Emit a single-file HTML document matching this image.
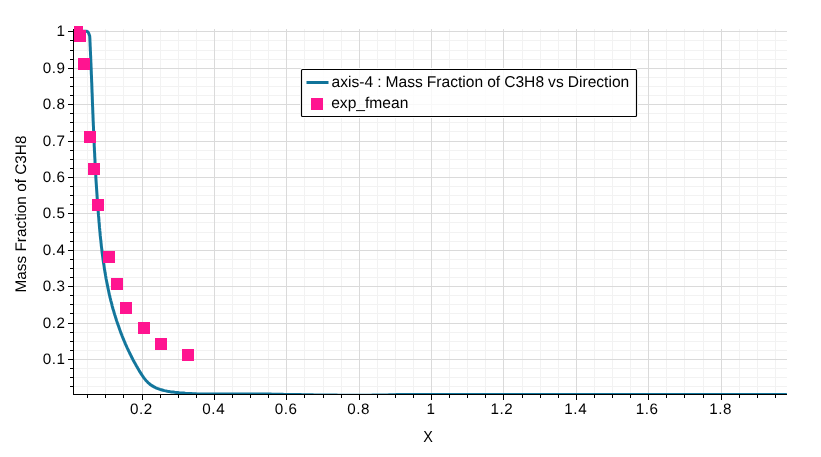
<!DOCTYPE html>
<html><head><meta charset="utf-8"><style>
html,body{margin:0;padding:0;background:#fff;overflow:hidden;}
svg{display:block;will-change:transform;}
text{font-family:"Liberation Sans",sans-serif;fill:#000;text-rendering:geometricPrecision;}
</style></head><body>
<svg width="821" height="457" viewBox="0 0 821 457">
<defs><clipPath id="pc"><rect x="74" y="29" width="713" height="366"/></clipPath><clipPath id="mc"><rect x="74" y="0" width="713" height="394"/></clipPath></defs>
<rect width="821" height="457" fill="#fff"/>
<path d="M87.5 29V394M105.5 29V394M123.5 29V394M160.5 29V394M178.5 29V394M196.5 29V394M232.5 29V394M250.5 29V394M268.5 29V394M304.5 29V394M323.5 29V394M341.5 29V394M377.5 29V394M395.5 29V394M413.5 29V394M449.5 29V394M467.5 29V394M485.5 29V394M522.5 29V394M540.5 29V394M558.5 29V394M594.5 29V394M612.5 29V394M630.5 29V394M666.5 29V394M684.5 29V394M703.5 29V394M739.5 29V394M757.5 29V394M775.5 29V394M74 386.5H787M74 377.5H787M74 368.5H787M74 350.5H787M74 341.5H787M74 332.5H787M74 313.5H787M74 304.5H787M74 295.5H787M74 277.5H787M74 268.5H787M74 259.5H787M74 241.5H787M74 232.5H787M74 222.5H787M74 204.5H787M74 195.5H787M74 186.5H787M74 168.5H787M74 159.5H787M74 150.5H787M74 131.5H787M74 122.5H787M74 113.5H787M74 95.5H787M74 86.5H787M74 77.5H787M74 59.5H787M74 50.5H787M74 40.5H787" stroke="#f2f2f2" stroke-width="1" fill="none" shape-rendering="crispEdges"/>
<path d="M142.5 29V394M214.5 29V394M286.5 29V394M359.5 29V394M431.5 29V394M503.5 29V394M576.5 29V394M648.5 29V394M721.5 29V394M74 359.5H787M74 323.5H787M74 286.5H787M74 250.5H787M74 213.5H787M74 177.5H787M74 141.5H787M74 104.5H787M74 68.5H787M74 31.5H787" stroke="#dadada" stroke-width="1" fill="none" shape-rendering="crispEdges"/>
<g clip-path="url(#pc)">
<path d="M60.0 31.2 L86.0 31.2 L87.6 31.6 L88.6 33.0 L89.7 36.0 L89.8 37.5 L89.9 39.0 L89.9 40.5 L90.0 42.0 L90.1 43.5 L90.1 45.0 L90.2 46.5 L90.3 48.0 L90.3 49.5 L90.4 51.0 L90.5 52.5 L90.5 54.0 L90.6 55.4 L90.7 56.9 L90.7 58.4 L90.8 59.9 L90.8 61.4 L90.9 62.9 L91.0 64.4 L91.0 65.9 L91.1 67.4 L91.2 68.9 L91.2 70.4 L91.3 71.9 L91.3 73.4 L91.4 74.9 L91.5 76.4 L91.5 77.9 L91.6 79.4 L91.6 80.9 L91.7 82.4 L91.8 83.9 L91.8 85.4 L91.9 86.9 L91.9 88.4 L92.0 89.9 L92.0 91.4 L92.1 92.9 L92.2 94.4 L92.2 95.9 L92.3 97.4 L92.3 98.9 L92.4 100.4 L92.4 101.9 L92.5 103.4 L92.5 104.9 L92.6 106.4 L92.7 107.9 L92.7 109.4 L92.8 110.9 L92.8 112.4 L92.9 113.9 L93.0 115.4 L93.0 116.9 L93.1 118.4 L93.1 119.9 L93.2 121.4 L93.3 122.9 L93.3 124.4 L93.4 125.9 L93.5 127.4 L93.5 128.9 L93.6 130.4 L93.6 131.9 L93.7 133.4 L93.8 134.9 L93.8 136.4 L93.9 137.9 L94.0 139.4 L94.0 140.9 L94.1 142.4 L94.2 143.9 L94.2 145.4 L94.3 146.9 L94.4 148.4 L94.4 149.9 L94.5 151.4 L94.6 152.9 L94.7 154.4 L94.7 155.9 L94.8 157.4 L94.9 158.8 L95.0 160.3 L95.0 161.8 L95.1 163.3 L95.2 164.8 L95.3 166.3 L95.3 167.8 L95.4 169.3 L95.5 170.8 L95.6 172.3 L95.7 173.8 L95.8 175.3 L95.8 176.8 L95.9 178.3 L96.0 179.8 L96.1 181.3 L96.2 182.8 L96.3 184.3 L96.4 185.8 L96.5 187.3 L96.6 188.8 L96.7 190.3 L96.8 191.8 L96.9 193.3 L97.0 194.8 L97.1 196.3 L97.2 197.8 L97.3 199.3 L97.4 200.8 L97.5 202.3 L97.6 203.8 L97.7 205.3 L97.8 206.8 L97.9 208.3 L98.0 209.8 L98.2 211.2 L98.3 212.8 L98.4 214.2 L98.5 215.7 L98.7 217.2 L98.8 218.7 L98.9 220.2 L99.0 221.7 L99.2 223.2 L99.3 224.7 L99.4 226.2 L99.5 227.7 L99.7 229.2 L99.8 230.7 L100.0 232.2 L100.1 233.7 L100.2 235.2 L100.4 236.7 L100.5 238.1 L100.7 239.6 L100.9 241.1 L101.0 242.6 L101.2 244.1 L101.3 245.6 L101.5 247.1 L101.7 248.6 L101.9 250.1 L102.0 251.6 L102.2 253.1 L102.4 254.5 L102.6 256.0 L102.8 257.5 L103.0 259.0 L103.2 260.5 L103.4 262.0 L103.6 263.4 L103.9 264.9 L104.1 266.4 L104.3 267.9 L104.5 269.4 L104.8 270.9 L105.0 272.4 L105.3 273.8 L105.5 275.3 L105.8 276.8 L106.0 278.3 L106.3 279.7 L106.6 281.2 L106.9 282.7 L107.2 284.1 L107.5 285.6 L107.8 287.1 L108.1 288.6 L108.4 290.0 L108.7 291.5 L109.0 293.0 L109.3 294.4 L109.7 295.9 L110.0 297.4 L110.4 298.8 L110.7 300.3 L111.1 301.7 L111.5 303.2 L111.9 304.6 L112.2 306.1 L112.6 307.5 L113.0 309.0 L113.5 310.4 L113.9 311.9 L114.3 313.3 L114.7 314.7 L115.2 316.1 L115.6 317.6 L116.1 319.0 L116.5 320.4 L117.0 321.9 L117.5 323.3 L118.0 324.7 L118.5 326.1 L119.0 327.5 L119.5 328.9 L120.0 330.4 L120.5 331.8 L121.0 333.2 L121.6 334.6 L122.1 336.0 L122.7 337.4 L123.2 338.7 L123.8 340.1 L124.4 341.5 L125.0 342.9 L125.6 344.3 L126.2 345.6 L126.8 347.0 L127.4 348.4 L128.1 349.7 L128.7 351.1 L129.4 352.4 L130.0 353.8 L130.7 355.1 L131.4 356.5 L132.0 357.8 L132.7 359.1 L133.4 360.5 L134.1 361.8 L134.9 363.1 L135.6 364.4 L136.3 365.7 L137.1 367.0 L137.8 368.3 L138.6 369.6 L139.3 370.9 L140.1 372.2 L140.9 373.4 L141.7 374.7 L142.6 376.0 L143.4 377.2 L144.3 378.4 L145.3 379.6 L146.2 380.7 L147.3 381.8 L148.3 382.9 L149.5 383.8 L150.6 384.8 L151.9 385.6 L153.2 386.4 L154.5 387.1 L155.8 387.8 L157.2 388.4 L158.6 388.9 L160.0 389.4 L161.4 389.8 L162.9 390.2 L164.4 390.6 L165.8 390.9 L167.3 391.2 L168.8 391.4 L170.3 391.7 L171.7 391.9 L173.2 392.1 L174.7 392.3 L176.2 392.4 L177.7 392.6 L179.2 392.8 L180.7 392.9 L182.2 393.0 L183.7 393.1 L185.2 393.3 L186.7 393.4 L188.2 393.5 L189.7 393.5 L191.2 393.6 L192.7 393.7 L194.2 393.8 L195.7 393.8 L197.2 393.9 L198.7 393.9 L200.2 393.9 L201.7 394.0 L203.2 394.0 L204.7 394.0 L206.2 394.0 L207.7 394.0 L209.2 394.0 L210.7 394.0 L212.2 394.0 L213.7 394.0 L215.2 394.0 L216.7 394.0 L218.2 394.0 L219.7 394.0 L221.2 394.0 L222.7 394.0 L224.2 394.0 L225.7 394.0 L227.2 393.9 L228.7 393.9 L230.2 393.9 L231.7 393.9 L233.2 393.9 L234.7 393.9 L236.2 393.9 L237.7 393.9 L239.2 393.9 L240.7 393.9 L242.2 393.9 L243.7 393.9 L245.2 393.9 L246.7 393.9 L248.2 393.9 L249.7 393.9 L251.2 393.9 L252.7 393.9 L254.2 394.0 L255.7 394.0 L257.1 394.0 L258.6 394.0 L260.1 394.0 L261.6 394.0 L263.1 394.1 L264.6 394.1 L266.1 394.1 L267.6 394.1 L269.1 394.1 L270.6 394.1 L272.1 394.2 L273.6 394.2 L275.1 394.2 L276.6 394.2 L278.1 394.3 L279.6 394.3 L281.1 394.3 L282.6 394.3 L284.1 394.4 L285.6 394.4 L287.1 394.4 L288.6 394.4 L290.1 394.4 L291.6 394.5 L293.1 394.5 L294.6 394.5 L296.1 394.6 L297.6 394.6 L299.1 394.6 L300.6 394.6 L302.1 394.7 L303.6 394.7 L305.1 394.7 L306.6 394.7 L308.1 394.8 L309.6 394.8 L311.1 394.8 L312.6 394.8 L314.1 394.9 L315.6 394.9 L317.1 394.9 L318.6 394.9 L320.1 394.9 L321.6 395.0 L323.1 395.0 L324.6 395.0 L326.1 395.0 L327.6 395.1 L329.1 395.1 L330.6 395.1 L332.1 395.1 L333.6 395.1 L335.1 395.1 L336.6 395.1 L338.1 395.2 L339.6 395.2 L341.1 395.2 L342.6 395.2 L344.1 395.2 L345.6 395.2 L347.1 395.2 L348.6 395.2 L350.1 395.2 L351.6 395.2 L353.1 395.2 L354.6 395.2 L356.1 395.2 L357.6 395.2 L359.1 395.2 L360.6 395.2 L362.1 395.2 L363.6 395.2 L365.1 395.2 L366.6 395.2 L368.1 395.2 L369.6 395.2 L371.1 395.2 L372.6 395.1 L374.1 395.1 L375.6 395.1 L377.1 395.1 L378.6 395.1 L380.1 395.0 L381.6 395.0 L383.1 395.0 L384.6 394.9 L386.1 394.9 L387.6 394.9 L389.1 394.8 L390.6 394.8 L392.1 394.8 L393.6 394.7 L395.1 394.7 L396.6 394.6 L398.1 394.6 L399.6 394.5 L786.0 394.5" stroke="#13769c" stroke-width="3" fill="none" stroke-linejoin="round" stroke-linecap="round"/>
</g>
<g fill="#ff1490" clip-path="url(#mc)"><rect x="71" y="26" width="12" height="12"/><rect x="74" y="30" width="12" height="12"/><rect x="78" y="58" width="12" height="12"/><rect x="84" y="131" width="12" height="12"/><rect x="88" y="163" width="12" height="12"/><rect x="92" y="199" width="12" height="12"/><rect x="103" y="251" width="12" height="12"/><rect x="111" y="278" width="12" height="12"/><rect x="120" y="302" width="12" height="12"/><rect x="138" y="322" width="12" height="12"/><rect x="155" y="338" width="12" height="12"/><rect x="182" y="349" width="12" height="12"/></g>
<path d="M73.5 29V395M73 394.5H787" stroke="#000" stroke-width="1" fill="none" shape-rendering="crispEdges"/>
<path d="M87.5 395V398M105.5 395V398M123.5 395V398M142.5 395V400M160.5 395V398M178.5 395V398M196.5 395V398M214.5 395V400M232.5 395V398M250.5 395V398M268.5 395V398M286.5 395V400M304.5 395V398M323.5 395V398M341.5 395V398M359.5 395V400M377.5 395V398M395.5 395V398M413.5 395V398M431.5 395V400M449.5 395V398M467.5 395V398M485.5 395V398M503.5 395V400M522.5 395V398M540.5 395V398M558.5 395V398M576.5 395V400M594.5 395V398M612.5 395V398M630.5 395V398M648.5 395V400M666.5 395V398M684.5 395V398M703.5 395V398M721.5 395V400M739.5 395V398M757.5 395V398M775.5 395V398M73 386.5H70M73 377.5H70M73 368.5H70M73 359.5H68M73 350.5H70M73 341.5H70M73 332.5H70M73 323.5H68M73 313.5H70M73 304.5H70M73 295.5H70M73 286.5H68M73 277.5H70M73 268.5H70M73 259.5H70M73 250.5H68M73 241.5H70M73 232.5H70M73 222.5H70M73 213.5H68M73 204.5H70M73 195.5H70M73 186.5H70M73 177.5H68M73 168.5H70M73 159.5H70M73 150.5H70M73 141.5H68M73 131.5H70M73 122.5H70M73 113.5H70M73 104.5H68M73 95.5H70M73 86.5H70M73 77.5H70M73 68.5H68M73 59.5H70M73 50.5H70M73 40.5H70M73 31.5H68" stroke="#000" stroke-width="1" fill="none" shape-rendering="crispEdges"/>
<g font-size="15.2" letter-spacing="0.6" text-anchor="middle"><text x="141.4" y="414">0.2</text><text x="213.8" y="414">0.4</text><text x="286.2" y="414">0.6</text><text x="358.6" y="414">0.8</text><text x="431.0" y="414">1</text><text x="501.9" y="414">1.2</text><text x="575.8" y="414">1.4</text><text x="647.2" y="414">1.6</text><text x="720.6" y="414">1.8</text></g>
<g font-size="15.2" letter-spacing="0.6" text-anchor="end"><text x="65.6" y="364.1">0.1</text><text x="65.6" y="328.1">0.2</text><text x="65.6" y="291.1">0.3</text><text x="65.6" y="255.1">0.4</text><text x="65.6" y="218.1">0.5</text><text x="65.6" y="182.1">0.6</text><text x="65.6" y="146.1">0.7</text><text x="65.6" y="109.1">0.8</text><text x="65.6" y="73.1">0.9</text><text x="65.6" y="36.1">1</text></g>
<text transform="translate(428.1 441.6) scale(0.9 1)" font-size="16" text-anchor="middle">X</text>
<text transform="translate(26 214) rotate(-90)" font-size="15.35" text-anchor="middle">Mass Fraction of C3H8</text>
<rect x="300.5" y="68.5" width="337" height="49" rx="1.5" fill="none" stroke="#fff" stroke-width="1"/>
<rect x="301.5" y="69.5" width="335" height="47" rx="1" fill="#fff" fill-opacity="0.8" stroke="#000" stroke-width="1.15"/>
<path d="M306.5 82.5H328.5" stroke="#0f7399" stroke-width="3"/>
<rect x="311" y="98" width="12" height="12" fill="#ff1490"/>
<text x="331.5" y="87" font-size="15.6" word-spacing="-0.3">axis-4 : Mass Fraction of C3H8 vs Direction</text>
<text x="331.2" y="108" font-size="15.6">exp_fmean</text>
</svg>
</body></html>
